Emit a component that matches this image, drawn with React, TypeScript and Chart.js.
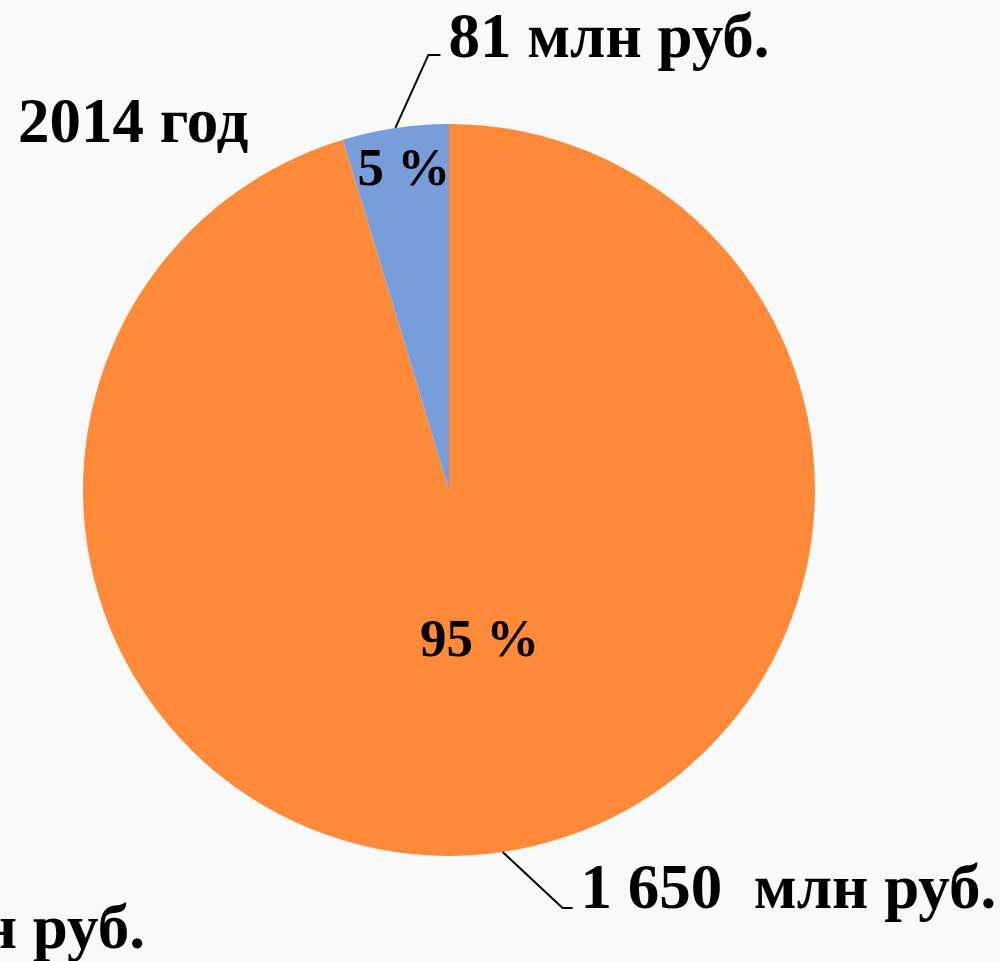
import React, { useEffect, useRef } from "react";
import { Chart, registerables } from "chart.js";

Chart.register(...registerables);

const categories = ["Прочие", "Малый бизнес"];
const values = [1650, 81];
const valueLabels = ["1 650  млн руб.", "81 млн руб."];
const colors = ["#FE8A3A", "#789DD9"];
const titleText = "2014 год";
const clippedText = "н руб.";

const FONT = '"Liberation Serif", "Times New Roman", serif';

const labelsPlugin = {
  id: "customLabels",
  afterDatasetsDraw(chart: any) {
    const ctx = chart.ctx;
    const meta = chart.getDatasetMeta(0);
    const total = values.reduce((a, b) => a + b, 0);
    ctx.save();
    ctx.fillStyle = "#000";
    ctx.strokeStyle = "#000";
    ctx.lineWidth = 2;
    // percent labels
    const fracs = [0.42, 0.88];
    const shifts = [8, 2];
    meta.data.forEach((arc: any, i: number) => {
      const mid = (arc.startAngle + arc.endAngle) / 2;
      const r = arc.outerRadius * fracs[i];
      const x = arc.x + Math.cos(mid) * r + shifts[i];
      const y = arc.y + Math.sin(mid) * r;
      ctx.font = `bold 53px ${FONT}`;
      ctx.textAlign = "center";
      ctx.textBaseline = "middle";
      ctx.fillText(Math.round((values[i] / total) * 100) + " %", x, y);
    });
    // value labels with leader lines
    const elbows = [
      { dx: 60, dy: 56, hx: 10 },
      { dx: 33, dy: -73, hx: 12 },
    ];
    meta.data.forEach((arc: any, i: number) => {
      const mid = (arc.startAngle + arc.endAngle) / 2;
      const sx = arc.x + Math.cos(mid) * arc.outerRadius;
      const sy = arc.y + Math.sin(mid) * arc.outerRadius;
      const e = elbows[i];
      const ex = sx + e.dx;
      const ey = sy + e.dy;
      ctx.beginPath();
      ctx.moveTo(sx, sy);
      ctx.lineTo(ex, ey);
      ctx.lineTo(ex + e.hx, ey);
      ctx.stroke();
      ctx.font = `bold 63px ${FONT}`;
      ctx.textAlign = "left";
      ctx.textBaseline = "alphabetic";
      ctx.fillText(valueLabels[i], ex + e.hx + 8, ey + (i === 0 ? 0 : 2));
    });
    // title
    ctx.font = `bold 63px ${FONT}`;
    ctx.textAlign = "left";
    ctx.textBaseline = "alphabetic";
    ctx.fillText(titleText, 18, 142);
    // clipped neighbouring label
    ctx.font = `bold 63px ${FONT}`;
    ctx.textAlign = "right";
    ctx.fillText(clippedText, 145, 948);
    ctx.restore();
  },
};

export default function App() {
  const ref = useRef<HTMLCanvasElement>(null);
  useEffect(() => {
    document.body.style.margin = "0";
    const chart = new Chart(ref.current as HTMLCanvasElement, {
      type: "pie",
      data: {
        labels: categories,
        datasets: [
          {
            data: values,
            backgroundColor: colors,
            borderWidth: 0,
          },
        ],
      },
      options: {
        animation: false,
        responsive: false,
        layout: { padding: { left: 83, right: 185, top: 124, bottom: 105 } },
        plugins: { legend: { display: false }, tooltip: { enabled: false } },
      },
      plugins: [labelsPlugin],
    });
    return () => chart.destroy();
  }, []);
  return (
    <div style={{ position: "fixed", left: 0, top: 0, width: 1000, height: 961, background: "#f9f9f9" }}>
      <canvas ref={ref} width={1000} height={961} style={{ display: "block" }} />
    </div>
  );
}
